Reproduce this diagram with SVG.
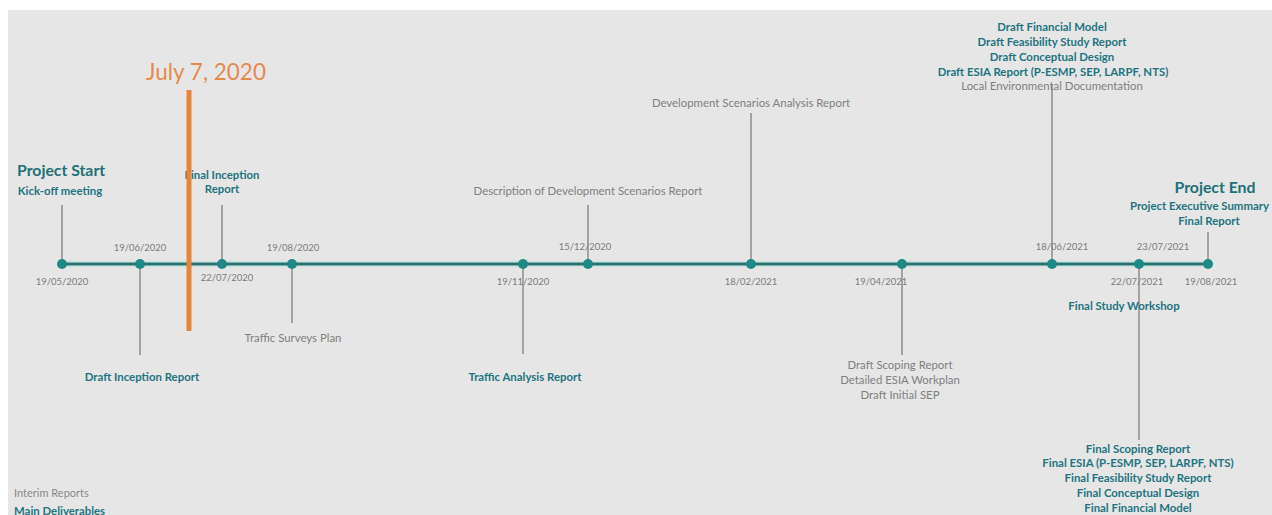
<svg xmlns="http://www.w3.org/2000/svg" width="1272" height="515" viewBox="0 0 1272 515">
  <style>
    .t { font-family: Lato, "Liberation Sans", sans-serif; }
    .date { font-size: 9.5px; fill: #7c7c7c; text-anchor: middle; }
    .gray { font-size: 11.4px; fill: #7f7f7f; text-anchor: middle; }
    .bold { font-size: 11.4px; font-weight: bold; fill: #1f7480; text-anchor: middle; }
    .big { font-size: 15.8px; font-weight: bold; fill: #1f7078; }
    .stem { stroke: #8c8c8c; stroke-width: 1.5; fill: none; }
    .axis { stroke: #2b7470; stroke-width: 3; }
    .halo { stroke: #cfe6e4; stroke-width: 7; }
    .dot { fill: #1d8a85; }
  </style>

  <!-- page -->
  <rect x="0" y="0" width="1272" height="515" fill="#ffffff"/>
  <rect x="8" y="10" width="1264" height="505" fill="#e6e6e6"/>

  <!-- connectors: timeline axis and leader stems -->
  <g id="connectors">
    <line class="halo" x1="62" y1="264" x2="1208" y2="264"/>
    <line class="axis" x1="62" y1="264" x2="1208" y2="264"/>
    <line class="stem" x1="62" y1="205" x2="62" y2="264"/>
    <line class="stem" x1="140" y1="264" x2="140" y2="355"/>
    <line class="stem" x1="222" y1="205" x2="222" y2="264"/>
    <line class="stem" x1="292" y1="264" x2="292" y2="323"/>
    <line class="stem" x1="523" y1="264" x2="523" y2="354"/>
    <line class="stem" x1="588" y1="205" x2="588" y2="264"/>
    <line class="stem" x1="751" y1="113" x2="751" y2="264"/>
    <line class="stem" x1="902" y1="264" x2="902" y2="355"/>
    <line class="stem" x1="1052" y1="85" x2="1052" y2="264"/>
    <line class="stem" x1="1139" y1="264" x2="1139" y2="440"/>
    <line class="stem" x1="1208" y1="232" x2="1208" y2="264"/>
  </g>

  <!-- milestones -->
  <g id="m-20200519" class="t">
    <circle class="dot" cx="62" cy="264" r="5"/>
    <text class="big" x="17" y="176">Project Start</text>
    <text class="bold" x="60" y="195">Kick-off meeting</text>
    <text class="date" x="62" y="285">19/05/2020</text>
  </g>

  <g id="m-20200619" class="t">
    <circle class="dot" cx="140" cy="264" r="5"/>
    <text class="date" x="140" y="251">19/06/2020</text>
    <text class="bold" x="142" y="381">Draft Inception Report</text>
  </g>

  <g id="m-20200722" class="t">
    <circle class="dot" cx="222" cy="264" r="5"/>
    <text class="bold" x="222" y="179">Final Inception</text>
    <text class="bold" x="222" y="193">Report</text>
    <text class="date" x="227" y="281">22/07/2020</text>
  </g>

  <g id="m-20200819" class="t">
    <circle class="dot" cx="292" cy="264" r="5"/>
    <text class="date" x="293" y="251">19/08/2020</text>
    <text class="gray" x="293" y="342">Traffic Surveys Plan</text>
  </g>

  <g id="m-20201119" class="t">
    <circle class="dot" cx="523" cy="264" r="5"/>
    <text class="date" x="523" y="285">19/11/2020</text>
    <text class="bold" x="525" y="381">Traffic Analysis Report</text>
  </g>

  <g id="m-20201215" class="t">
    <circle class="dot" cx="588" cy="264" r="5"/>
    <text class="date" x="585" y="250">15/12/2020</text>
    <text class="gray" x="588" y="195">Description of Development Scenarios Report</text>
  </g>

  <g id="m-20210218" class="t">
    <circle class="dot" cx="751" cy="264" r="5"/>
    <text class="date" x="751" y="285">18/02/2021</text>
    <text class="gray" x="751" y="107">Development Scenarios Analysis Report</text>
  </g>

  <g id="m-20210419" class="t">
    <circle class="dot" cx="902" cy="264" r="5"/>
    <text class="date" x="881" y="285">19/04/2021</text>
    <text class="gray" x="900" y="369">Draft Scoping Report</text>
    <text class="gray" x="900" y="384">Detailed ESIA Workplan</text>
    <text class="gray" x="900" y="399">Draft Initial SEP</text>
  </g>

  <g id="m-20210618" class="t">
    <circle class="dot" cx="1052" cy="264" r="5"/>
    <text class="date" x="1062" y="250">18/06/2021</text>
    <text class="bold" x="1052" y="31">Draft Financial Model</text>
    <text class="bold" x="1052" y="46">Draft Feasibility Study Report</text>
    <text class="bold" x="1052" y="61">Draft Conceptual Design</text>
    <text class="bold" x="1053" y="76">Draft ESIA Report (P-ESMP, SEP, LARPF, NTS)</text>
    <text class="gray" x="1052" y="90">Local Environmental Documentation</text>
  </g>

  <g id="m-20210722" class="t">
    <circle class="dot" cx="1139" cy="264" r="5"/>
    <text class="date" x="1137" y="285">22/07/2021</text>
    <text class="date" x="1163" y="250">23/07/2021</text>
    <text class="bold" x="1124" y="310">Final Study Workshop</text>
    <text class="bold" x="1138" y="453">Final Scoping Report</text>
    <text class="bold" x="1138" y="467">Final ESIA (P-ESMP, SEP, LARPF, NTS)</text>
    <text class="bold" x="1138" y="482">Final Feasibility Study Report</text>
    <text class="bold" x="1138" y="497">Final Conceptual Design</text>
    <text class="bold" x="1138" y="512">Final Financial Model</text>
  </g>

  <g id="m-20210819" class="t">
    <circle class="dot" cx="1208" cy="264" r="5"/>
    <text class="date" x="1211" y="285">19/08/2021</text>
    <text class="big" x="1215" y="193" style="text-anchor:middle">Project End</text>
    <text class="bold" x="1269" y="210" style="text-anchor:end">Project Executive Summary</text>
    <text class="bold" x="1209" y="225">Final Report</text>
  </g>

  <!-- status marker -->
  <g id="today" class="t">
    <text x="206" y="80" font-size="22.5" fill="#e58a4c" text-anchor="middle">July 7, 2020</text>
    <line x1="189" y1="90" x2="189" y2="331" stroke="#e8843a" stroke-width="5"/>
  </g>

  <!-- legend -->
  <g id="legend" class="t">
    <text x="14" y="497" font-size="11" fill="#8a8a8a">Interim Reports</text>
    <text x="14" y="515" font-size="11.4" font-weight="bold" fill="#1f7480">Main Deliverables</text>
  </g>
</svg>
